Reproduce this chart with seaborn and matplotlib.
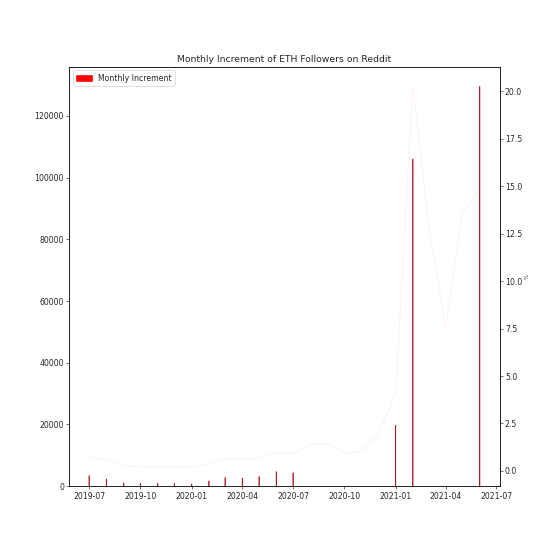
import matplotlib
matplotlib.use('Agg')
import matplotlib.pyplot as plt
import matplotlib.dates as mdates
import pandas as pd
import seaborn as sns
import numpy as np

# Monthly data
months = pd.date_range('2019-07-01', '2021-06-01', freq='MS')
increment = [3400, 2300, 1000, 900, 900, 900, 700, 1700, 2800, 2600, 3100, 4700,
             4300, np.nan, np.nan, np.nan, np.nan, np.nan, 19700, 106000,
             np.nan, np.nan, np.nan, 129500]
pct = [0.74, 0.57, 0.28, 0.22, 0.21, 0.21, 0.2, 0.4, 0.65, 0.6, 0.67, 0.98,
       0.92, 1.38, 1.45, 0.95, 1.02, 1.95, 4.07, 20.3, 13.0, 7.6, 13.6, 14.8]

df = pd.DataFrame({'date': months, 'increment': increment, 'pct': pct})

sns.set_style('white')
plt.rcParams['font.family'] = ['DejaVu Sans']

fig, ax = plt.subplots(figsize=(10, 10), dpi=55.5)
fig.subplots_adjust(left=0.125, right=0.9, top=0.88, bottom=0.124)

bars = ax.bar(df['date'], df['increment'], width=0.8, color='red', edgecolor='#a8182a',
              linewidth=0.8, label='Monthly Increment')
for b in bars:
    b.set_snap(False)
ax.set_title('Monthly Increment of ETH Followers on Reddit')
leg = ax.legend(loc='upper left')
for h in leg.legend_handles:
    h.set_edgecolor('red')
ax.xaxis.set_major_locator(mdates.MonthLocator(bymonth=[1, 4, 7, 10]))
ax.xaxis.set_major_formatter(mdates.DateFormatter('%Y-%m'))
ax.tick_params(axis='both', which='both', length=3.5, left=True, bottom=True)

ax2 = ax.twinx()
sns.lineplot(x='date', y='pct', data=df, ax=ax2, color='red', alpha=0.05, linewidth=1.5)
ax2.set_ylabel('%', fontsize=7)
ax2.set_xlabel('')
ax2.tick_params(axis='y', length=3.5, right=True)

for a in (ax, ax2):
    for s in a.spines.values():
        s.set_color('black')
        s.set_linewidth(0.8)

fig.savefig('out.png', dpi=55.5)
